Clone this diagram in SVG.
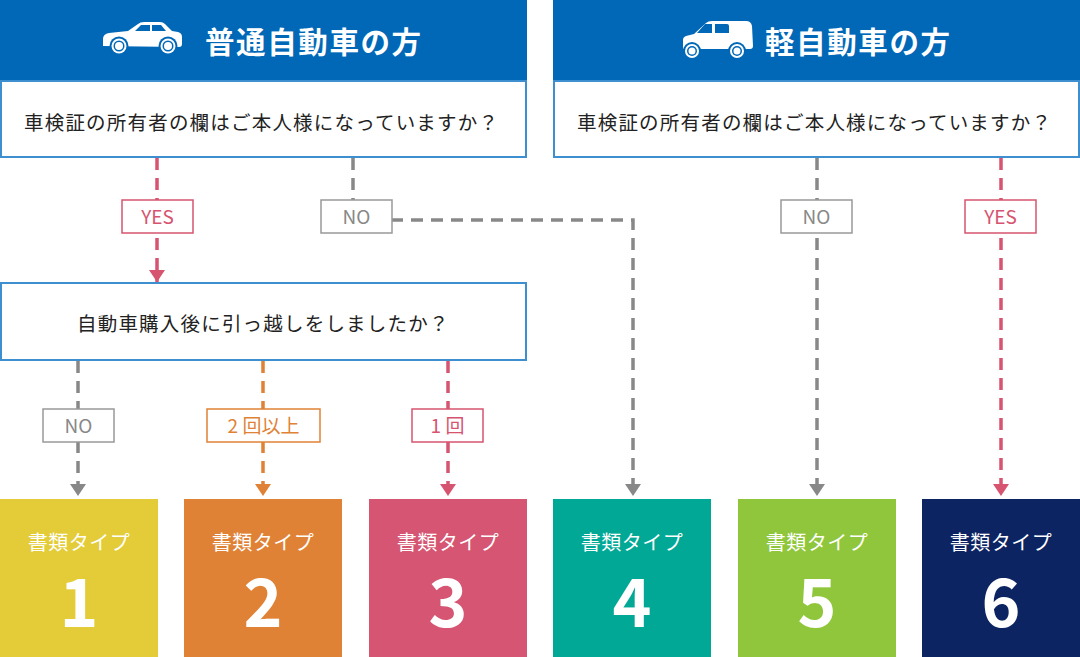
<svg xmlns="http://www.w3.org/2000/svg" width="1080" height="657" viewBox="0 0 1080 657">
<defs>
<style>
.hdr{fill:#0068b7}
.qbox{fill:#fff;stroke:#3d8fd0;stroke-width:2}
.ht{font-family:"Noto Sans CJK JP","Noto Sans",sans-serif;font-weight:bold;font-size:29.5px;fill:#fff;letter-spacing:1.6px}
.qt{font-family:"Noto Sans CJK JP","Noto Sans",sans-serif;font-size:19.5px;fill:#222;letter-spacing:1.2px}
.lt{font-family:"Noto Sans CJK JP","Noto Sans",sans-serif;font-size:19px;text-anchor:middle}
.tt{font-family:"Noto Sans CJK JP","Noto Sans",sans-serif;font-size:20px;fill:#fff;text-anchor:middle;letter-spacing:0.5px}
.tn{font-family:"Noto Sans CJK JP","Noto Sans",sans-serif;font-weight:bold;font-size:66px;fill:#fff;text-anchor:middle}
.ln{fill:none;stroke-width:3.5;stroke-dasharray:12 8}
.gray{stroke:#888}
.pink{stroke:#d6546f}
.orange{stroke:#e08236}
.lbl{fill:#fff;stroke-width:1.5}
</style>
<marker id="ag" viewBox="0 0 16 12" refX="8" refY="12" markerWidth="16" markerHeight="12" markerUnits="userSpaceOnUse"><path d="M0,0 L16,0 L8,12 Z" fill="#888"/></marker>
<marker id="ap" viewBox="0 0 16 12" refX="8" refY="12" markerWidth="16" markerHeight="12" markerUnits="userSpaceOnUse"><path d="M0,0 L16,0 L8,12 Z" fill="#d6546f"/></marker>
<marker id="ao" viewBox="0 0 16 12" refX="8" refY="12" markerWidth="16" markerHeight="12" markerUnits="userSpaceOnUse"><path d="M0,0 L16,0 L8,12 Z" fill="#e08236"/></marker>
</defs>

<g id="connectors">
<path class="ln pink" d="M157,158 V282" marker-end="url(#ap)"/>
<path class="ln gray" d="M353,158 V220 H633 V496" marker-end="url(#ag)"/>
<path class="ln gray" d="M817,158 V496" marker-end="url(#ag)"/>
<path class="ln pink" d="M1001,158 V496" marker-end="url(#ap)"/>
<path class="ln gray" d="M78,361 V496" marker-end="url(#ag)"/>
<path class="ln orange" d="M263,361 V496" marker-end="url(#ao)"/>
<path class="ln pink" d="M448,361 V496" marker-end="url(#ap)"/>
</g>

<g id="label-yes-left"><rect class="lbl" x="122" y="200" width="71" height="33" stroke="#d6546f"/><text class="lt" x="157.5" y="223.5" fill="#d6546f">YES</text></g>
<g id="label-no-left"><rect class="lbl" x="321" y="200" width="71" height="33" stroke="#999"/><text class="lt" x="356.5" y="223.5" fill="#888">NO</text></g>
<g id="label-no-right"><rect class="lbl" x="781" y="200" width="71" height="33" stroke="#999"/><text class="lt" x="816.5" y="223.5" fill="#888">NO</text></g>
<g id="label-yes-right"><rect class="lbl" x="965" y="200" width="71" height="33" stroke="#d6546f"/><text class="lt" x="1000.5" y="223.5" fill="#d6546f">YES</text></g>
<g id="label-no-bottom"><rect class="lbl" x="43" y="409" width="71" height="33" stroke="#999"/><text class="lt" x="78.5" y="432.5" fill="#888">NO</text></g>
<g id="label-2plus"><rect class="lbl" x="207" y="409" width="113" height="33" stroke="#e08236"/><text class="lt" x="263.5" y="432.5" fill="#e08236">2 回以上</text></g>
<g id="label-1"><rect class="lbl" x="412" y="409" width="71" height="33" stroke="#d6546f"/><text class="lt" x="447.5" y="432.5" fill="#d6546f">1 回</text></g>

<g id="header-normal">
<rect class="hdr" x="0" y="0" width="527" height="80"/>
<path fill="#fff" d="M103,46 L103,39 Q103,34 109,33 L128,31 L138,24 Q140,22 144,22 L160,22 Q163,22 165,24 L172,31 L178,32 Q182,33 182,37 L182,44 Q182,47 179,47 Z"/>
<path fill="#0068b7" d="M141,25 L150,25 L150,31 L135,31 Z M152,25 L161,25 L166,31 L152,31 Z"/>
<circle cx="119" cy="46" r="9.5" fill="#0068b7"/><circle cx="119" cy="46" r="7.5" fill="#fff"/><circle cx="119" cy="46" r="5.5" fill="#0068b7"/><circle cx="119" cy="46" r="4" fill="#fff"/>
<circle cx="168" cy="46" r="9.5" fill="#0068b7"/><circle cx="168" cy="46" r="7.5" fill="#fff"/><circle cx="168" cy="46" r="5.5" fill="#0068b7"/><circle cx="168" cy="46" r="4" fill="#fff"/>
<text class="ht" x="205" y="53">普通自動車の方</text>
</g>

<g id="header-kei">
<rect class="hdr" x="553" y="0" width="527" height="80"/>
<path fill="#fff" d="M683,49 L683,40 Q683,37 686,36 L694,34 L706,23 Q708,21 712,21 L746,21 Q751,21 752,26 L753,46 Q753,49 750,49 Z"/>
<path fill="#0068b7" d="M705,24 L712,24 L712,33 L697,33 Z M715,24 L727,24 Q729,24 729,26 L729,33 L715,33 Z"/>
<circle cx="692" cy="51" r="9" fill="#0068b7"/><circle cx="692" cy="51" r="7" fill="#fff"/><circle cx="692" cy="51" r="5" fill="#0068b7"/><circle cx="692" cy="51" r="3.5" fill="#fff"/>
<circle cx="737" cy="51" r="9" fill="#0068b7"/><circle cx="737" cy="51" r="7" fill="#fff"/><circle cx="737" cy="51" r="5" fill="#0068b7"/><circle cx="737" cy="51" r="3.5" fill="#fff"/>
<text class="ht" x="765" y="53">軽自動車の方</text>
</g>

<g id="q1-normal"><rect class="qbox" x="1" y="81" width="525" height="76"/><text class="qt" x="24" y="130">車検証の所有者の欄はご本人様になっていますか？</text></g>
<g id="q1-kei"><rect class="qbox" x="554" y="81" width="525" height="76"/><text class="qt" x="577" y="130">車検証の所有者の欄はご本人様になっていますか？</text></g>
<g id="q2-normal"><rect class="qbox" x="1" y="283" width="525" height="77"/><text class="qt" x="77" y="331">自動車購入後に引っ越しをしましたか？</text></g>

<g id="type1"><rect x="0" y="499" width="158" height="158" fill="#e3cc37"/><text class="tt" x="79" y="550">書類タイプ</text><text class="tn" x="79" y="627">1</text></g>
<g id="type2"><rect x="184" y="499" width="158" height="158" fill="#e08236"/><text class="tt" x="263" y="550">書類タイプ</text><text class="tn" x="263" y="627">2</text></g>
<g id="type3"><rect x="369" y="499" width="158" height="158" fill="#d55572"/><text class="tt" x="448" y="550">書類タイプ</text><text class="tn" x="448" y="627">3</text></g>
<g id="type4"><rect x="553" y="499" width="158" height="158" fill="#00a895"/><text class="tt" x="632" y="550">書類タイプ</text><text class="tn" x="632" y="627">4</text></g>
<g id="type5"><rect x="738" y="499" width="158" height="158" fill="#8fc63b"/><text class="tt" x="817" y="550">書類タイプ</text><text class="tn" x="817" y="627">5</text></g>
<g id="type6"><rect x="922" y="499" width="158" height="158" fill="#0c2461"/><text class="tt" x="1001" y="550">書類タイプ</text><text class="tn" x="1001" y="627">6</text></g>
</svg>
